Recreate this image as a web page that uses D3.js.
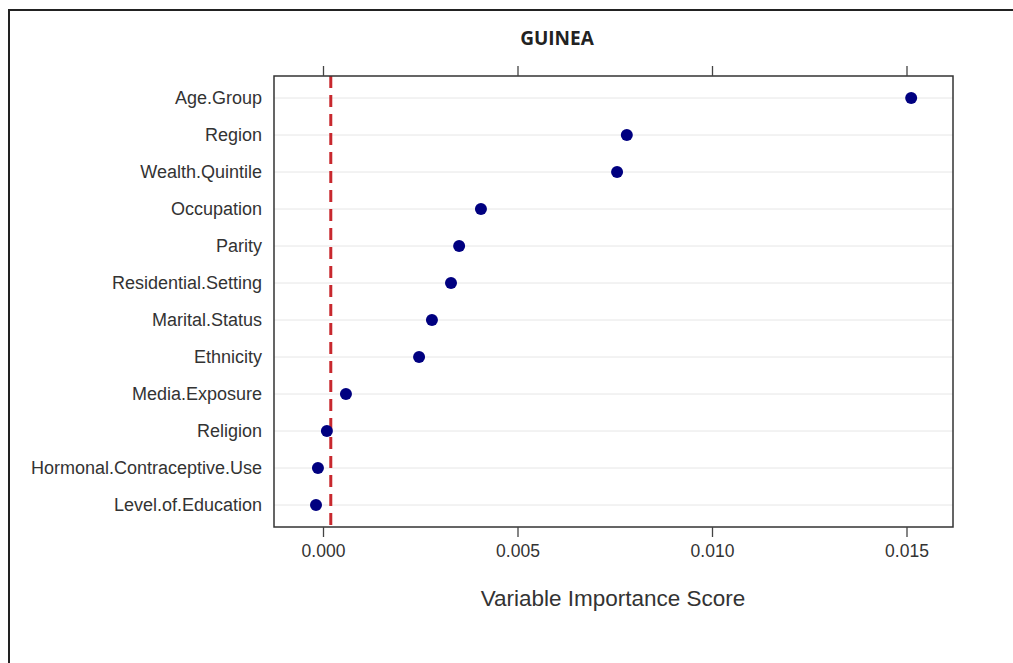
<!DOCTYPE html>
<html><head><meta charset="utf-8">
<script src="https://cdn.jsdelivr.net/npm/d3@7"></script>
<style>body{margin:0;background:#fff;} svg{display:block;}</style>
</head><body>
<svg id="chart" width="1013" height="663"></svg>
<script>
const title = "GUINEA";
const categories = ["Age.Group","Region","Wealth.Quintile","Occupation","Parity","Residential.Setting","Marital.Status","Ethnicity","Media.Exposure","Religion","Hormonal.Contraceptive.Use","Level.of.Education"];
const scores = [0.01512,0.00781,0.00756,0.00406,0.0035,0.00329,0.0028,0.00247,0.00059,0.0001,-0.00013,-0.00018];
const refLine = 0.0002;
const xTicks = [0.000,0.005,0.010,0.015];
const xTitle = "Variable Importance Score";

const svg = d3.select("#chart");
const P = {left:274, right:953, top:76, bottom:527};
const x = d3.scaleLinear().domain([0,0.015]).range([323,906.5]);
const y = d3.scalePoint().domain(categories).range([98,505]);
const FONT = "Liberation Sans, Arial, sans-serif";

// outer frame (top & left)
svg.append("path").attr("d","M9,663 L9,10 L1013,10").attr("fill","none").attr("stroke","#222").attr("stroke-width",2);

// gridlines
svg.append("g").selectAll("line").data(categories).join("line")
  .attr("x1",P.left).attr("x2",P.right).attr("y1",d=>y(d)).attr("y2",d=>y(d))
  .attr("stroke","#e6e6e6").attr("stroke-width",1);

// reference line
svg.append("line").attr("x1",x(refLine)).attr("x2",x(refLine)).attr("y1",P.top).attr("y2",P.bottom)
  .attr("stroke","#c8282e").attr("stroke-width",3).attr("stroke-dasharray","12,7");

// points
svg.append("g").selectAll("circle").data(categories).join("circle")
  .attr("cx",(d,i)=>x(scores[i])).attr("cy",d=>y(d)).attr("r",6)
  .attr("fill","#000080");

// panel border
svg.append("rect").attr("x",P.left).attr("y",P.top).attr("width",P.right-P.left).attr("height",P.bottom-P.top)
  .attr("fill","none").attr("stroke","#333").attr("stroke-width",1.5);

// axes
const axB = d3.axisBottom(x).tickValues(xTicks).tickFormat(d3.format(".3f")).tickSize(10).tickPadding(8);
const gB = svg.append("g").attr("transform",`translate(0,${P.bottom})`).call(axB);
gB.attr("font-size",null).attr("font-family",null);
gB.select(".domain").remove();
gB.selectAll("line").attr("stroke","#444").attr("stroke-width",1.3);
gB.selectAll("text").style("font-family",FONT).style("font-size","17.5px").attr("fill","#333");
const axT = d3.axisTop(x).tickValues(xTicks).tickFormat("").tickSize(10);
const gT = svg.append("g").attr("transform",`translate(0,${P.top})`).call(axT);
gT.select(".domain").remove();
gT.selectAll("line").attr("stroke","#444").attr("stroke-width",1.3);

const axL = d3.axisLeft(y).tickSize(0).tickPadding(12);
const gL = svg.append("g").attr("transform",`translate(${P.left},0)`).call(axL);
gL.attr("font-size",null).attr("font-family",null);
gL.select(".domain").remove();
gL.selectAll("text").style("font-family",FONT).style("font-size","18px").attr("fill","#333");

// titles
svg.append("text").attr("x",557).attr("y",45).attr("text-anchor","middle")
  .style("font-family","Open Sans, sans-serif").style("font-weight","bold").style("font-size","19px").attr("fill","#222").text(title);
svg.append("text").attr("x",613).attr("y",606).attr("text-anchor","middle")
  .style("font-family",FONT).style("font-size","22.5px").attr("fill","#333").text(xTitle);
</script>
</body></html>
